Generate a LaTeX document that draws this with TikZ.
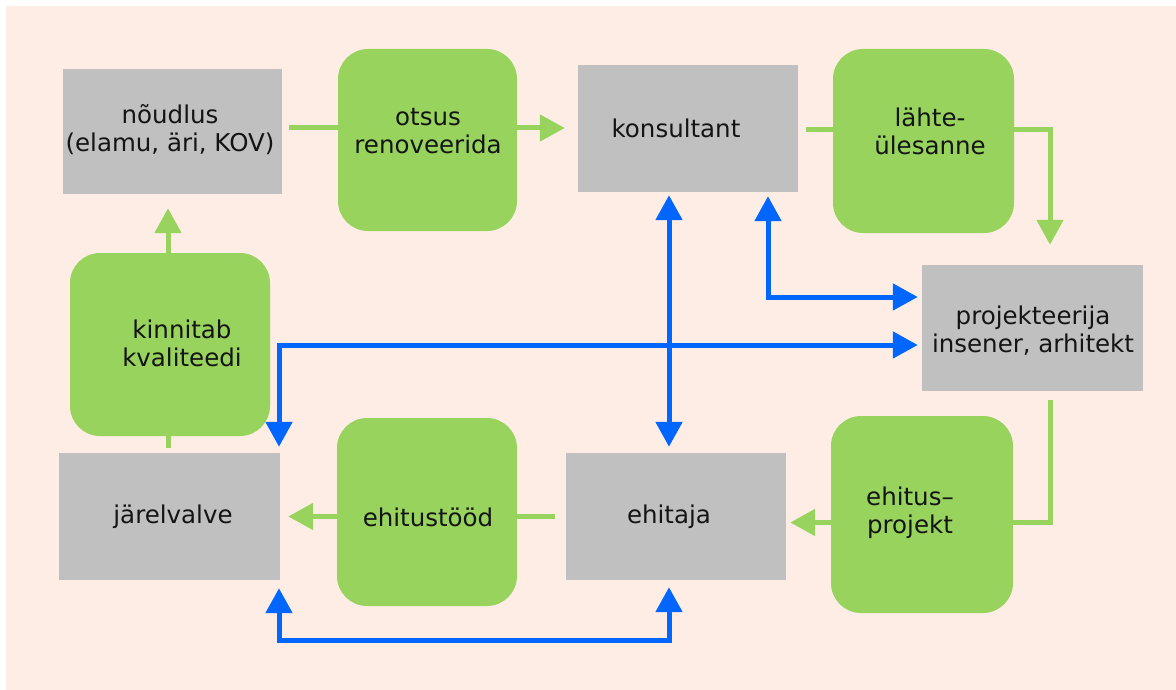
\documentclass[tikz,border=0pt]{standalone}
\usepackage{fontspec}
\setmainfont{DejaVu Sans}
\usetikzlibrary{arrows.meta,calc,backgrounds}

\definecolor{bgpeach}{RGB}{253,237,229}
\definecolor{boxgray}{RGB}{192,192,192}
\definecolor{boxgreen}{RGB}{152,211,94}
\definecolor{linkblue}{RGB}{0,102,255}

\pgfdeclarelayer{canvas}
\pgfsetlayers{canvas,background,main}

\tikzset{
  actor/.style={fill=boxgray, draw=none, inner sep=0pt},
  action/.style={fill=boxgreen, draw=none, rounded corners=30pt, inner sep=0pt},
  lbl/.style={align=center, font=\fontsize{24.5}{28}\selectfont, text=black!92, inner sep=0pt},
  flow/.style={draw=boxgreen, line width=5pt, -{Triangle[width=26pt,length=25pt]}},
  link/.style={draw=linkblue, line width=5pt,
    {Triangle[width=26pt,length=25pt]}-{Triangle[width=26pt,length=25pt]}},
}

\begin{document}
\begin{tikzpicture}[x=1pt,y=-1pt]
  \useasboundingbox (0,0) rectangle (1176,690);
  \begin{pgfonlayer}{canvas}
    \fill[bgpeach] (6,6) rectangle (1176,690);
  \end{pgfonlayer}

  % grey boxes: parties
  \node[actor, minimum width=219pt, minimum height=125pt] (noudlus) at (172.5,131.5) {};
  \node[actor, minimum width=220pt, minimum height=127pt] (konsultant) at (688,128.5) {};
  \node[actor, minimum width=221pt, minimum height=126pt] (projekteerija) at (1032.5,328) {};
  \node[actor, minimum width=221pt, minimum height=127pt] (jarelvalve) at (169.5,516.5) {};
  \node[actor, minimum width=220pt, minimum height=127pt] (ehitaja) at (676,516.5) {};

  % green boxes: steps
  \node[action, minimum width=179pt, minimum height=182pt] (otsus) at (427.5,140) {};
  \node[action, minimum width=181pt, minimum height=184pt] (lahte) at (923.5,141) {};
  \node[action, minimum width=200pt, minimum height=183pt] (kinnitab) at (170,344.5) {};
  \node[action, minimum width=180pt, minimum height=188pt] (ehitustood) at (427,512) {};
  \node[action, minimum width=182pt, minimum height=197pt] (ehitusprojekt) at (922,514.5) {};

  % labels
  \node[lbl] (t-noudlus) at (170,130) {nõudlus\\(elamu, äri, KOV)};
  \node[lbl] (t-otsus) at (428,131) {otsus\\renoveerida};
  \node[lbl] (t-konsultant) at (676,128) {konsultant};
  \node[lbl] (t-lahte) at (930,131) {lähte-\\ülesanne};
  \node[lbl] (t-projekteerija) at (1033,331) {projekteerija\\insener, arhitekt};
  \node[lbl] (t-kinnitab) at (182,343) {kinnitab\\kvaliteedi};
  \node[lbl] (t-jarelvalve) at (173,517) {järelvalve};
  \node[lbl] (t-ehitustood) at (428,517) {ehitustööd};
  \node[lbl] (t-ehitaja) at (669,517) {ehitaja};
  \node[lbl] (t-ehitusprojekt) at (910,513) {ehitus–\\projekt};

  % green process flow, behind the step boxes
  \begin{scope}[on background layer]
    \draw[flow] ($(noudlus.east)+(7,-3.5)$) -- ($(konsultant.west)+(-13,-0.5)$);
    \draw[flow] ($(konsultant.east)+(8,1.5)$) -| ($(projekteerija.north)+(17.5,-20)$);
    \draw[flow] ($(projekteerija.south)+(17.5,9)$) |- ($(ehitaja.east)+(4,6)$);
    \draw[flow] ($(ehitaja.west)+(-11,0)$) -- ($(jarelvalve.east)+(8,0)$);
    \draw[flow] ($(jarelvalve.north)+(-1.5,-5)$) -- ($(noudlus.south)+(-4.5,14)$);
  \end{scope}

  % blue two-way links
  \draw[link] ($(konsultant.south)+(-19,3)$) -- ($(ehitaja.north)+(-7,-6)$);
  \draw[link] ($(konsultant.south)+(80,4)$) |- ($(projekteerija.west)+(-4,-31)$);
  \draw[link] ($(jarelvalve.north)+(109.5,-6)$) |- ($(projekteerija.west)+(-4,17)$);
  \draw[link] ($(jarelvalve.south)+(109.5,8)$) -- ++(0,52) -| ($(ehitaja.south)+(-7,7)$);
\end{tikzpicture}
\end{document}
